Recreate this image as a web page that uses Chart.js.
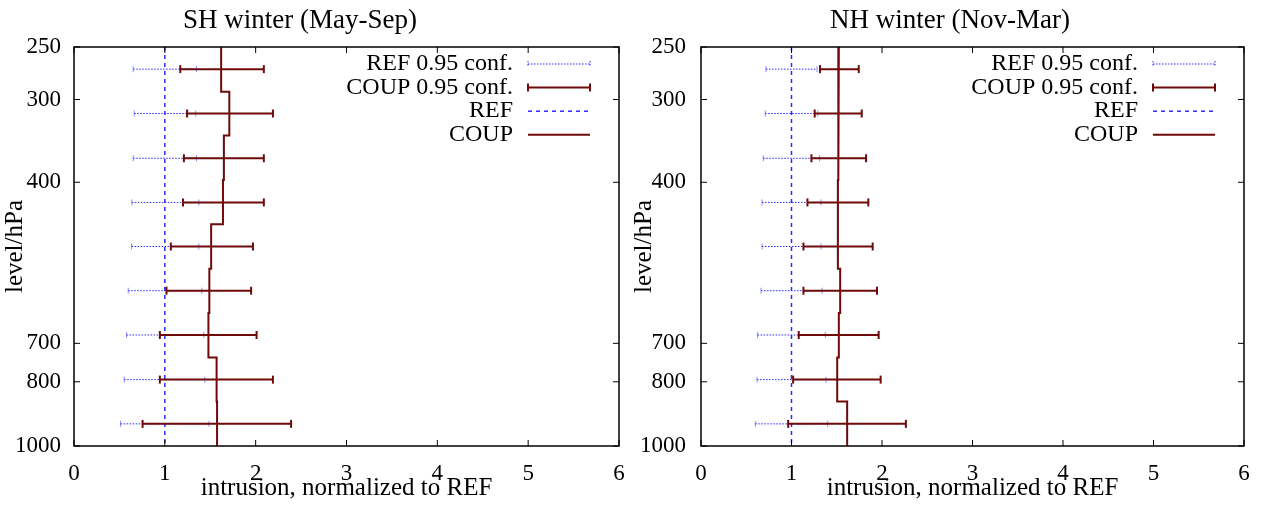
<!DOCTYPE html>
<html>
<head>
<meta charset="utf-8">
<script src="https://cdn.jsdelivr.net/npm/chart.js@4/dist/chart.umd.min.js"></script>
<style>
  body { margin: 0; background: #fff; }
  canvas.panel { position: absolute; top: 0; }
</style>
</head>
<body>
<canvas id="chart-sh" class="panel" width="632" height="506" style="left:0"></canvas>
<canvas id="chart-nh" class="panel" width="632" height="506" style="left:632px"></canvas>
<script>
// pressure layers (hPa): boundaries and the level where the bars sit
const levelEdges = [250, 292, 340, 397, 463, 540, 630, 735, 857, 1000];
const levelMids  = [270, 315, 368, 429, 500, 583, 680, 794, 926];
const yTicks     = [250, 300, 400, 700, 800, 1000];
const refValue   = 1;

// SH winter (May-Sep)
const shCoup   = [1.62, 1.71, 1.65, 1.64, 1.51, 1.49, 1.48, 1.57, 1.575];
const shCoupLo = [1.17, 1.245, 1.21, 1.20, 1.066, 1.018, 0.945, 0.945, 0.755];
const shCoupHi = [2.09, 2.19, 2.09, 2.09, 1.97, 1.95, 2.01, 2.19, 2.39];
const shRefLo  = [0.652, 0.663, 0.652, 0.637, 0.634, 0.597, 0.579, 0.553, 0.513];
const shRefHi  = [1.348, 1.34, 1.348, 1.374, 1.374, 1.407, 1.429, 1.44, 1.487];

// NH winter (Nov-Mar)
const nhCoup   = [1.523, 1.516, 1.516, 1.513, 1.512, 1.538, 1.523, 1.505, 1.615];
const nhCoupLo = [1.315, 1.256, 1.22, 1.176, 1.132, 1.132, 1.08, 1.018, 0.963];
const nhCoupHi = [1.743, 1.776, 1.824, 1.849, 1.897, 1.945, 1.963, 1.985, 2.264];
const nhRefLo  = [0.718, 0.71, 0.688, 0.674, 0.674, 0.663, 0.626, 0.619, 0.60];
const nhRefHi  = [1.282, 1.29, 1.31, 1.326, 1.326, 1.337, 1.374, 1.381, 1.40];

const legendLabels = ['REF 0.95 conf.', 'COUP 0.95 conf.', 'REF', 'COUP'];

const COUP_COLOR = '#6e0a0a';
const REF_COLOR  = '#2a2aff';
const SERIF = '"Liberation Serif", "Times New Roman", serif';

function stepPoints(values) {
    const pts = [];
    values.forEach((v, i) => {
        pts.push({ x: v, y: levelEdges[i] }, { x: v, y: levelEdges[i + 1] });
    });
    return pts;
}

// each bar is lo -> hi at its level, then a null point to break the line
function barPoints(lo, hi) {
    const pts = [];
    lo.forEach((l, i) => {
        pts.push({ x: l, y: levelMids[i] }, { x: hi[i], y: levelMids[i] }, { x: hi[i], y: null });
    });
    return pts;
}

function drawSample(ctx, kind, x0, x1, y) {
    ctx.save();
    ctx.beginPath();
    if (kind === 0) {
        ctx.strokeStyle = REF_COLOR; ctx.lineWidth = 1; ctx.setLineDash([1.5, 1.5]);
        ctx.moveTo(x0, y); ctx.lineTo(x1, y);
        ctx.moveTo(x0, y - 3); ctx.lineTo(x0, y + 3);
        ctx.moveTo(x1, y - 3); ctx.lineTo(x1, y + 3);
    } else if (kind === 1) {
        ctx.strokeStyle = COUP_COLOR; ctx.lineWidth = 2;
        ctx.moveTo(x0, y); ctx.lineTo(x1, y);
        ctx.moveTo(x0, y - 4); ctx.lineTo(x0, y + 4);
        ctx.moveTo(x1, y - 4); ctx.lineTo(x1, y + 4);
    } else if (kind === 2) {
        ctx.strokeStyle = REF_COLOR; ctx.lineWidth = 1.5; ctx.setLineDash([4, 4]);
        ctx.moveTo(x0, y); ctx.lineTo(x1, y);
    } else {
        ctx.strokeStyle = COUP_COLOR; ctx.lineWidth = 2;
        ctx.moveTo(x0, y); ctx.lineTo(x1, y);
    }
    ctx.stroke();
    ctx.restore();
}

// gnuplot-like frame with inward ticks, title and legend
function makeDecor(title, titleX) {
    return {
        id: 'decor',
        afterDatasetsDraw(chart) {
            const { ctx, chartArea: a, scales } = chart;
            ctx.save();
            ctx.strokeStyle = '#000';
            ctx.lineWidth = 1.5;
            ctx.strokeRect(a.left, a.top, a.right - a.left, a.bottom - a.top);
            ctx.beginPath();
            ctx.lineWidth = 1;
            scales.x.ticks.forEach((t) => {
                const px = scales.x.getPixelForValue(t.value);
                ctx.moveTo(px, a.bottom); ctx.lineTo(px, a.bottom - 6);
                ctx.moveTo(px, a.top); ctx.lineTo(px, a.top + 6);
            });
            scales.y.ticks.forEach((t) => {
                const py = scales.y.getPixelForValue(t.value);
                ctx.moveTo(a.left, py); ctx.lineTo(a.left + 6, py);
                ctx.moveTo(a.right, py); ctx.lineTo(a.right - 6, py);
            });
            ctx.stroke();
            ctx.restore();
        },
        afterDraw(chart) {
            const { ctx, chartArea: a } = chart;
            ctx.save();
            ctx.fillStyle = '#000';
            ctx.font = '27px ' + SERIF;
            ctx.textAlign = 'center';
            ctx.textBaseline = 'alphabetic';
            ctx.fillText(title, titleX, 28);

            ctx.font = '24px ' + SERIF;
            ctx.textAlign = 'right';
            ctx.textBaseline = 'middle';
            legendLabels.forEach((lab, i) => {
                const y = 64 + i * 23.6;
                ctx.fillText(lab, a.right - 106, y);
                drawSample(ctx, i, a.right - 91, a.right - 29, y);
            });
            ctx.restore();
        },
    };
}

function buildPanel(canvasId, cfg) {
    const tickFont  = { family: SERIF, size: 23 };
    const titleFont = { family: SERIF, size: 25 };

    return new Chart(document.getElementById(canvasId), {
        type: 'scatter',
        data: {
            datasets: [
                {
                    label: 'COUP',
                    data: stepPoints(cfg.coup),
                    showLine: true, borderColor: COUP_COLOR, borderWidth: 2,
                    pointRadius: 0, order: 1,
                },
                {
                    label: 'COUP 0.95 conf.',
                    data: barPoints(cfg.coupLo, cfg.coupHi),
                    showLine: true, borderColor: COUP_COLOR, borderWidth: 2,
                    pointStyle: 'line', rotation: 90, pointRadius: 4,
                    pointBorderColor: COUP_COLOR, pointBorderWidth: 2, order: 2,
                },
                {
                    label: 'REF',
                    data: [{ x: refValue, y: levelEdges[0] }, { x: refValue, y: levelEdges[levelEdges.length - 1] }],
                    showLine: true, borderColor: REF_COLOR, borderWidth: 1.5, borderDash: [4, 4],
                    pointRadius: 0, order: 3,
                },
                {
                    label: 'REF 0.95 conf.',
                    data: barPoints(cfg.refLo, cfg.refHi),
                    showLine: true, borderColor: REF_COLOR, borderWidth: 1, borderDash: [1.5, 1.5],
                    pointStyle: 'line', rotation: 90, pointRadius: 3,
                    pointBorderColor: 'rgba(60,60,255,0.6)', pointBorderWidth: 1, order: 4,
                },
            ],
        },
        options: {
            responsive: false,
            animation: false,
            events: [],
            layout: { padding: { top: 47, right: cfg.padRight, left: 0, bottom: 0 } },
            plugins: { legend: { display: false }, tooltip: { enabled: false } },
            scales: {
                x: {
                    type: 'linear', min: 0, max: 6,
                    ticks: { stepSize: 1, font: tickFont, color: '#000', padding: 0 },
                    // tick marks are drawn inward by the decor plugin; tickLength only offsets labels
                    grid: { display: false, drawTicks: true, tickLength: 14 },
                    border: { display: false },
                    title: { display: true, text: 'intrusion, normalized to REF', font: titleFont,
                             color: '#000', padding: { top: 0, bottom: 3 } },
                    afterFit: (s) => { s.height = 60; },
                },
                y: {
                    type: 'logarithmic', reverse: true, min: 250, max: 1000,
                    afterBuildTicks: (s) => { s.ticks = yTicks.map((v) => ({ value: v })); },
                    ticks: { font: tickFont, color: '#000', padding: 0, autoSkip: false,
                             callback: (v) => String(v) },
                    grid: { display: false, drawTicks: true, tickLength: cfg.yPad },
                    border: { display: false },
                    title: { display: true, text: 'level/hPa', font: titleFont, color: '#000',
                             padding: { top: cfg.yTitlePad, bottom: 0 } },
                    afterFit: (s) => { s.width = cfg.yWidth; },
                },
            },
        },
        plugins: [makeDecor(cfg.title, cfg.titleX)],
    });
}

buildPanel('chart-sh', {
    title: 'SH winter (May-Sep)', titleX: 300,
    coup: shCoup, coupLo: shCoupLo, coupHi: shCoupHi, refLo: shRefLo, refHi: shRefHi,
    yWidth: 74, yPad: 13, yTitlePad: 0, padRight: 13,
});

buildPanel('chart-nh', {
    title: 'NH winter (Nov-Mar)', titleX: 318,
    coup: nhCoup, coupLo: nhCoupLo, coupHi: nhCoupHi, refLo: nhRefLo, refHi: nhRefHi,
    yWidth: 69, yPad: 15, yTitlePad: -3, padRight: 20,
});
</script>
</body>
</html>
